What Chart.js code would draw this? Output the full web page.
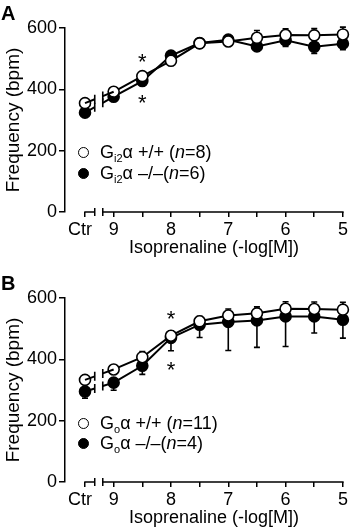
<!DOCTYPE html>
<html>
<head>
<meta charset="utf-8">
<script src="https://cdn.jsdelivr.net/npm/chart.js@4/dist/chart.umd.min.js"></script>
<style>
  html, body { margin: 0; padding: 0; background: #fff; }
  body { width: 350px; height: 531px; position: relative; overflow: hidden;
         font-family: 'Liberation Sans', Arial, Helvetica, sans-serif; color: #000; }
  .panel { position: absolute; left: 0; width: 350px; }
  .panel canvas { position: absolute; left: 0; top: 0; }
  .letter { position: absolute; left: 1px; font-weight: bold; font-size: 20px; line-height: 20px; }
  .leg { position: absolute; left: 78px; height: 20px; display: flex; align-items: center; font-size: 18px; line-height: 20px; white-space: nowrap; }
  .mk { width: 11px; height: 11px; border-radius: 50%; border: 1.5px solid #000; box-sizing: border-box; margin-right: 11px; }
  .mk.open { background: #fff; }
  .mk.fill { background: #000; }
  .leg sub { font-size: 11px; vertical-align: -4px; line-height: 0; }
</style>
</head>
<body>
<div class="panel" id="pA" style="top:0;height:270px;">
  <canvas id="cA" width="350" height="270"></canvas>
  <div class="letter" style="top:3px;">A</div>
  <div class="leg" style="top:142px;"><span class="mk open"></span><span>G<sub>i2</sub>α +/+ (<i>n</i>=8)</span></div>
  <div class="leg" style="top:163px;"><span class="mk fill"></span><span>G<sub>i2</sub>α –/–(<i>n</i>=6)</span></div>
</div>
<div class="panel" id="pB" style="top:270px;height:261px;">
  <canvas id="cB" width="350" height="261"></canvas>
  <div class="letter" style="top:3px;">B</div>
  <div class="leg" style="top:143px;"><span class="mk open"></span><span>G<sub>o</sub>α +/+ (<i>n</i>=11)</span></div>
  <div class="leg" style="top:163px;"><span class="mk fill"></span><span>G<sub>o</sub>α –/–(<i>n</i>=4)</span></div>
</div>
<script>
// ---- data ----
// x positions in -log[M]; 9.5 is the control (Ctr) slot placed before the axis break
const concentrations = [9.5, 9, 8.5, 8, 7.5, 7, 6.5, 6, 5.5, 5];
const xTickValues = [9.5, 9, 8.5, 8, 7.5, 7, 6.5, 6, 5.5, 5];
const ctrLabel = 'Ctr';
const yTickValues = [0, 200, 400, 600];

// Panel A: Gi2alpha
const gi2WT      = [355, 392, 443, 493, 550, 556, 568, 577, 576, 579];
const gi2WTErr   = [8, 8, 6, 8, 14, 10, 24, 20, 22, 24];
const gi2KO      = [324, 376, 427, 510, 551, 562, 540, 560, 539, 549];
const gi2KOErr   = [14, 10, 8, 8, 8, 8, 16, 20, 22, 20];
const gi2Signif  = [8.5];

// Panel B: Goalpha
const goWT       = [333, 367, 407, 477, 524, 543, 550, 565, 564, 562];
const goWTErr    = [8, 10, 18, 16, 16, 21, 21, 23, 23, 24];
const goKO       = [295, 324, 379, 470, 513, 522, 527, 540, 540, 529];
const goKOErr    = [22, 25, 28, 42, 42, 93, 88, 98, 54, 60];
const goSignif   = [8];

// axis break (in -log[M] units)
const breakStart = 9.33;
const breakEnd = 9.19;

const FONT = "'Liberation Sans', Arial, Helvetica, sans-serif";
Chart.defaults.font.family = FONT;
Chart.defaults.color = '#000';

function makePanel(canvasId, wt, wtErr, ko, koErr, signif) {
  const canvas = document.getElementById(canvasId);
  const H = canvas.height;
  const toPts = vals => concentrations.map((x, i) => ({ x: x, y: vals[i] }));

  const segHide = { borderColor: c => (c.p0DataIndex === 0 ? 'rgba(0,0,0,0)' : '#000') };

  const plugin = {
    id: 'decor_' + canvasId,
    beforeDatasetsDraw(chart) {
      const ctx = chart.ctx, xs = chart.scales.x, ys = chart.scales.y;
      ctx.save();
      ctx.strokeStyle = '#000';
      ctx.lineWidth = 1.6;
      const bar = (vals, errs, dir) => {
        vals.forEach((v, i) => {
          const px = xs.getPixelForValue(concentrations[i]);
          const p0 = ys.getPixelForValue(v);
          const p1 = ys.getPixelForValue(v + dir * errs[i]);
          ctx.beginPath();
          ctx.moveTo(px, p0); ctx.lineTo(px, p1);
          ctx.moveTo(px - 3, p1); ctx.lineTo(px + 3, p1);
          ctx.stroke();
        });
      };
      bar(ko, koErr, -1);
      bar(wt, wtErr, 1);
      ctx.restore();
    },
    afterDatasetsDraw(chart) {
      const ctx = chart.ctx, xs = chart.scales.x, ys = chart.scales.y;
      ctx.save();
      ctx.strokeStyle = '#000';
      // broken segment between Ctr and first concentration
      const bx1 = xs.getPixelForValue(breakStart);
      const bx2 = xs.getPixelForValue(breakEnd);
      [wt, ko].forEach(vals => {
        const x0 = xs.getPixelForValue(concentrations[0]);
        const x1 = xs.getPixelForValue(concentrations[1]);
        const y0 = ys.getPixelForValue(vals[0]);
        const y1 = ys.getPixelForValue(vals[1]);
        const yAt = px => y0 + (y1 - y0) * (px - x0) / (x1 - x0);
        ctx.lineWidth = 2;
        ctx.beginPath();
        ctx.moveTo(x0, y0); ctx.lineTo(bx1, yAt(bx1));
        ctx.moveTo(bx2, yAt(bx2)); ctx.lineTo(x1, y1);
        ctx.stroke();
        ctx.lineWidth = 1.6;
        ctx.beginPath();
        ctx.moveTo(bx1, yAt(bx1) - 4.5); ctx.lineTo(bx1, yAt(bx1) + 4.5);
        ctx.moveTo(bx2, yAt(bx2) - 4.5); ctx.lineTo(bx2, yAt(bx2) + 4.5);
        ctx.stroke();
      });
      ctx.restore();
    },
    afterDraw(chart) {
      const ctx = chart.ctx, xs = chart.scales.x, ys = chart.scales.y;
      const ay = chart.chartArea.bottom;
      ctx.save();
      ctx.strokeStyle = '#000';
      ctx.lineWidth = 1.5;
      const xc = xs.getPixelForValue(xTickValues[0]);
      const xe = xs.getPixelForValue(xTickValues[xTickValues.length - 1]);
      const b1 = xs.getPixelForValue(breakStart);
      const b2 = xs.getPixelForValue(breakEnd);
      ctx.beginPath();
      ctx.moveTo(xc - 0.75, ay); ctx.lineTo(b1, ay);
      ctx.moveTo(b2, ay); ctx.lineTo(xe + 0.75, ay);
      ctx.moveTo(b1, ay - 4); ctx.lineTo(b1, ay + 4);
      ctx.moveTo(b2, ay - 4); ctx.lineTo(b2, ay + 4);
      ctx.stroke();
      // significance stars
      ctx.fillStyle = '#000';
      ctx.font = '22px ' + FONT;
      ctx.textAlign = 'center';
      ctx.textBaseline = 'alphabetic';
      const m = ctx.measureText('*');
      const mid = (m.actualBoundingBoxAscent - m.actualBoundingBoxDescent) / 2;
      signif.forEach(c => {
        const i = concentrations.indexOf(c);
        const px = xs.getPixelForValue(c);
        const yTop = ys.getPixelForValue(wt[i] + wtErr[i]) - 16;
        const yBot = ys.getPixelForValue(ko[i] - koErr[i]) + 15;
        ctx.fillText('*', px, yTop + mid);
        ctx.fillText('*', px, yBot + mid);
      });
      // x-axis title centred on the drawn axis
      ctx.font = '18px ' + FONT;
      ctx.textBaseline = 'middle';
      ctx.fillText('Isoprenaline (-log[M])', (xc + xe) / 2, 248);
      ctx.restore();
    }
  };

  return new Chart(canvas, {
    type: 'line',
    data: {
      datasets: [
        {
          label: 'WT', data: toPts(wt), order: 0,
          borderColor: '#000', borderWidth: 2, segment: segHide,
          pointRadius: 5.5, pointHoverRadius: 5.5, pointBorderWidth: 1.6,
          pointBackgroundColor: '#fff', pointBorderColor: '#000', clip: false
        },
        {
          label: 'KO', data: toPts(ko), order: 1,
          borderColor: '#000', borderWidth: 2, segment: segHide,
          pointRadius: 5.5, pointHoverRadius: 5.5, pointBorderWidth: 1.6,
          pointBackgroundColor: '#000', pointBorderColor: '#000', clip: false
        }
      ]
    },
    options: {
      responsive: false,
      animation: false,
      devicePixelRatio: 1,
      layout: { padding: { top: 28, right: 7, left: 0, bottom: 0 } },
      plugins: { legend: { display: false }, tooltip: { enabled: false } },
      scales: {
        x: {
          type: 'linear', reverse: true, min: 5, max: 9.849,
          afterFit: s => { s.height = H - 212; },
          afterBuildTicks: s => { s.ticks = xTickValues.map(v => ({ value: v })); },
          border: { display: false },
          grid: { drawOnChartArea: false, drawTicks: true, tickLength: 5, color: '#000', lineWidth: 1.5 },
          ticks: {
            autoSkip: false, maxRotation: 0, padding: 2,
            font: { size: 18 }, color: '#000',
            callback: v => (v === xTickValues[0] ? ctrLabel + '  ' : (Number.isInteger(v) ? String(v) : ''))
          }
        },
        y: {
          min: 0, max: 600,
          afterFit: s => { s.width = 65; },
          afterBuildTicks: s => { s.ticks = yTickValues.map(v => ({ value: v })); },
          border: { display: true, color: '#000', width: 1.5 },
          grid: { drawOnChartArea: false, drawTicks: true, tickLength: 6, color: '#000', lineWidth: 1.5 },
          ticks: { padding: 2, font: { size: 18 }, color: '#000' },
          title: { display: true, text: 'Frequency (bpm)', font: { size: 19 }, color: '#000', padding: { top: 2, bottom: 0 } }
        }
      }
    },
    plugins: [plugin]
  });
}

makePanel('cA', gi2WT, gi2WTErr, gi2KO, gi2KOErr, gi2Signif);
makePanel('cB', goWT, goWTErr, goKO, goKOErr, goSignif);
</script>
</body>
</html>
